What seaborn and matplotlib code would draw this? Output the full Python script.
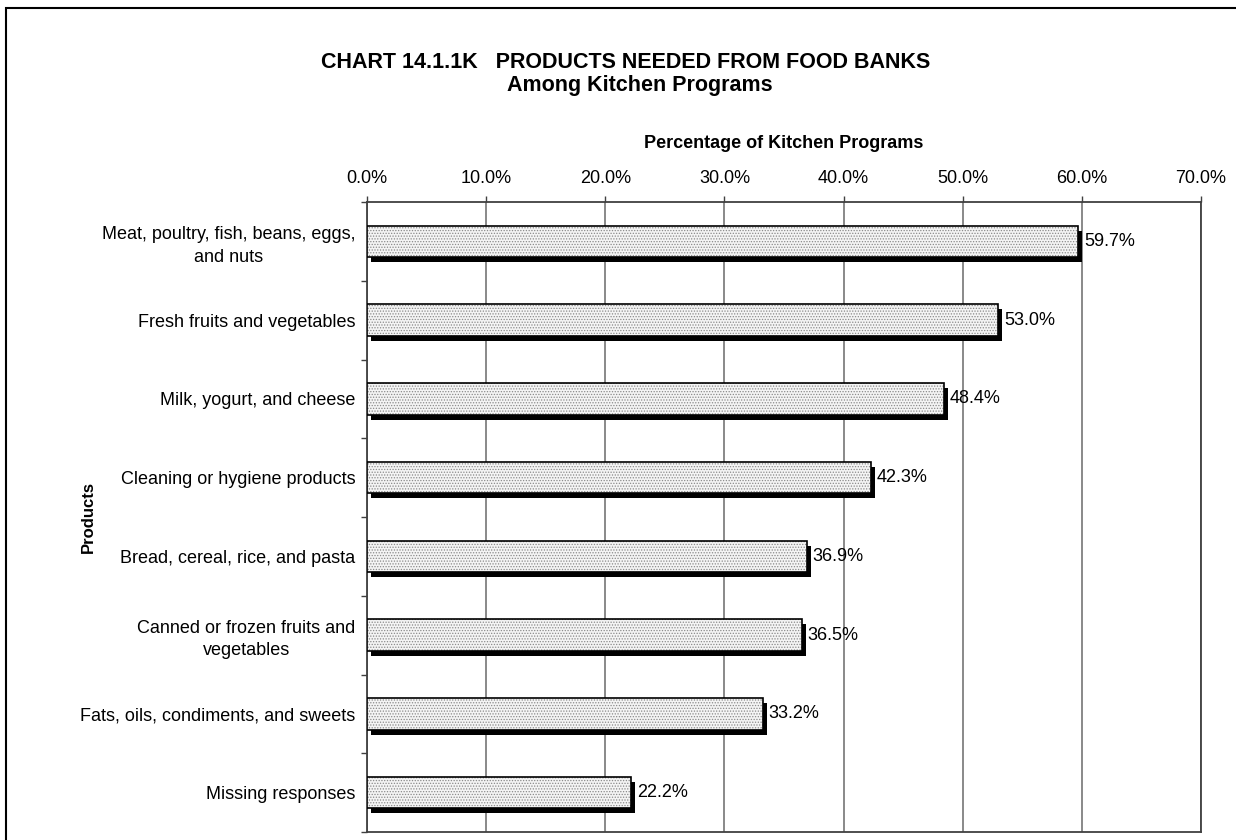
import numpy as np
import pandas as pd
import seaborn as sns
import matplotlib.pyplot as plt
from matplotlib.patches import Rectangle
from matplotlib.transforms import offset_copy
from matplotlib.ticker import FixedLocator, PercentFormatter

categories = ["Meat, poultry, fish, beans, eggs,\nand nuts",
              "Fresh fruits and vegetables",
              "Milk, yogurt, and cheese",
              "Cleaning or hygiene products",
              "Bread, cereal, rice, and pasta",
              "Canned or frozen fruits and\nvegetables",
              "Fats, oils, condiments, and sweets",
              "Missing responses"]
values = [59.7, 53.0, 48.4, 42.3, 36.9, 36.5, 33.2, 22.2]
xticks = [0, 10, 20, 30, 40, 50, 60, 70]

df = pd.DataFrame({"product": categories, "pct": values})

sns.set_style("white")
plt.rcParams["font.family"] = ["Liberation Sans", "DejaVu Sans"]
plt.rcParams["text.color"] = "black"
plt.rcParams["xtick.color"] = "black"
plt.rcParams["ytick.color"] = "black"
plt.rcParams["axes.labelcolor"] = "black"
plt.rcParams["hatch.linewidth"] = 0.6

fig = plt.figure(figsize=(12.36, 8.4), dpi=100)
ax = fig.add_axes([367 / 1236, 1 - 832 / 840, (1201 - 367) / 1236, (832 - 202) / 840])

sns.barplot(data=df, x="pct", y="product", orient="h", width=0.4, color="white", ax=ax, zorder=3)

# drop shadow offset a few pixels right / down, like the Excel bars
shadow_tr = offset_copy(ax.transData, fig=fig, x=4, y=-5, units="dots")
for p in list(ax.patches):
    p.set_facecolor("#f4f4f4")
    p.set_edgecolor("#8a8a8a")
    p.set_hatch("......")
    p.set_linewidth(0)
    ax.add_patch(Rectangle((p.get_x(), p.get_y()), p.get_width(), p.get_height(),
                           transform=shadow_tr, facecolor="black", edgecolor="none", zorder=2))
    ax.add_patch(Rectangle((p.get_x(), p.get_y()), p.get_width(), p.get_height(),
                           fill=False, edgecolor="black", linewidth=1.2, zorder=4))

for i, v in enumerate(values):
    ax.annotate(f"{v:.1f}%", (v, i), xytext=(4, 0), textcoords="offset points",
                ha="left", va="center", fontsize=13)

ax.set_xlim(0, 70)
ax.set_ylim(len(categories) - 0.5, -0.5)
ax.xaxis.set_major_locator(FixedLocator(xticks))
ax.xaxis.set_major_formatter(PercentFormatter(decimals=1))
ax.xaxis.tick_top()
ax.xaxis.set_label_position("top")
ax.tick_params(axis="x", which="major", direction="out", length=4, width=1, color="#404040",
               labelsize=13, pad=7)
ax.tick_params(axis="y", which="major", length=0, labelsize=13, pad=8.5)
for lab in ax.get_yticklabels():
    lab.set_multialignment("center")
    lab.set_linespacing(1.4)
ax.yaxis.set_minor_locator(FixedLocator(np.arange(len(categories) + 1) - 0.5))
ax.tick_params(axis="y", which="minor", direction="out", length=4, width=1, color="#404040", left=True)
ax.grid(axis="x", color="#808080", linewidth=1.3, zorder=0)
ax.set_axisbelow(True)
for s in ax.spines.values():
    s.set_visible(True)
    s.set_color("#404040")
    s.set_linewidth(1.3)

ax.set_xlabel("Percentage of Kitchen Programs", fontsize=13, fontweight="bold", labelpad=16)
ax.set_ylabel("")
fig.text(88 / 1236, 1 - 517 / 840, "Products", rotation=90, ha="center", va="center",
         fontsize=12, fontweight="bold")

fig.text(626 / 1236, 1 - 62 / 840, "CHART 14.1.1K   PRODUCTS NEEDED FROM FOOD BANKS",
         ha="center", va="center", fontsize=15.5, fontweight="bold")
fig.text(640 / 1236, 1 - 86 / 840, "Among Kitchen Programs",
         ha="center", va="center", fontsize=15.5, fontweight="bold")

fig.patches.append(Rectangle((6 / 1236, -0.2), 1.2, 1.2 - 8 / 840, transform=fig.transFigure,
                             fill=False, edgecolor="black", linewidth=1.5))

fig.savefig("out.png", dpi=100)
